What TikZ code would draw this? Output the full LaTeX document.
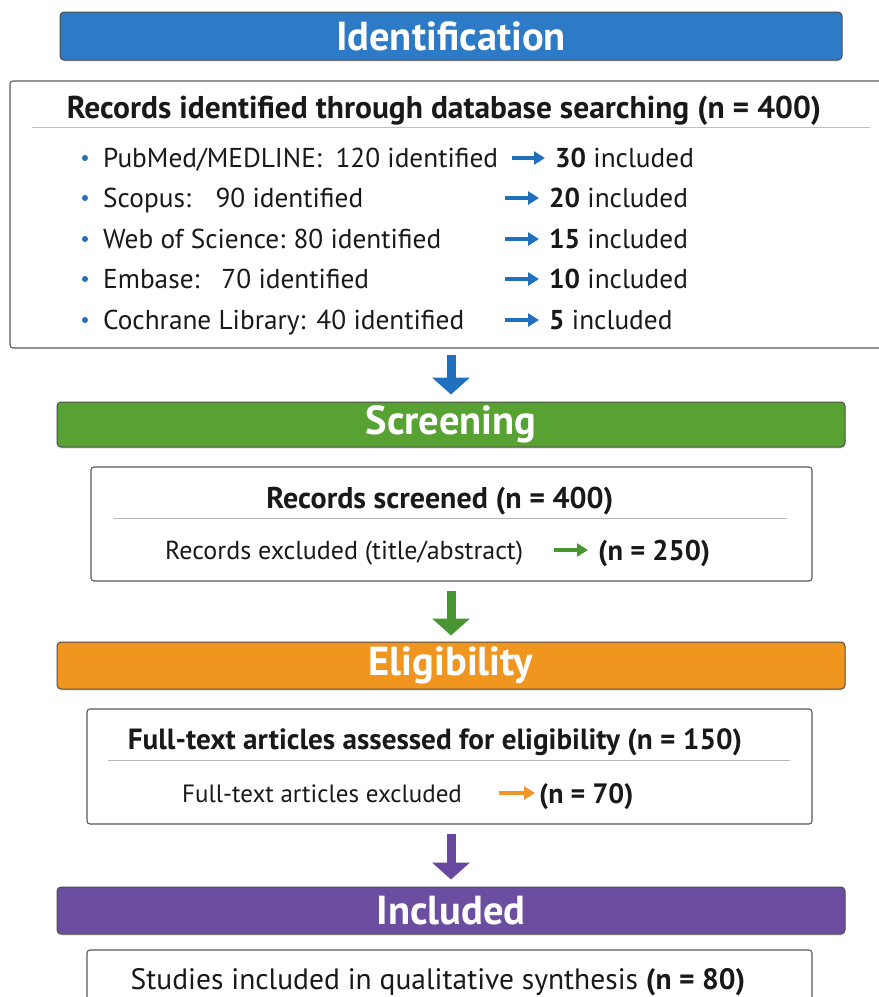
\documentclass[tikz,border=0pt]{standalone}
\usepackage{fontspec}
\setmainfont{PT Sans}
\usetikzlibrary{arrows.meta,calc,shadows}
\definecolor{idblue}{RGB}{45,122,198}
\definecolor{scgreen}{RGB}{88,162,52}
\definecolor{elorange}{RGB}{240,150,30}
\definecolor{inpurple}{RGB}{108,78,160}
\definecolor{arrblue}{RGB}{32,112,190}
\definecolor{arrgreen}{RGB}{72,150,50}
\definecolor{arrorange}{RGB}{240,150,40}
\definecolor{arrpurple}{RGB}{104,72,156}
\definecolor{sepblue}{RGB}{175,195,215}
\definecolor{sepgray}{RGB}{185,185,185}
\definecolor{txt}{RGB}{25,25,25}
\tikzset{
  bar/.style={draw=black!70, line width=1pt, rounded corners=4pt, text=white,
    font=\fontsize{40.5}{40.5}\selectfont\bfseries,
    drop shadow={shadow xshift=0pt, shadow yshift=-1.5pt, opacity=0.25}},
  panel/.style={draw=black!65, line width=1.1pt, rounded corners=3pt, fill=white},
  ttl/.style={inner sep=0pt, anchor=base, text=txt},
  row/.style={inner sep=0pt, anchor=base west, text=txt},
  bul/.style={circle, inner sep=0pt, minimum size=6pt, fill=arrblue},
  downarr/.style={line width=9pt, -{Triangle[width=37pt,length=17pt]}},
  sidearr/.style={line width=4pt, -{Triangle[width=13pt,length=11pt]}},
}
\newcommand{\fs}[1]{\fontsize{#1}{#1}\selectfont}
\begin{document}
\begin{tikzpicture}[x=1pt,y=-1pt]
\useasboundingbox (0,0) rectangle (879,997);
% header bars
\node[bar, fill=idblue, minimum width=782pt, minimum height=48pt] (h1) at (451,36) {Identification};
\node[bar, fill=scgreen, minimum width=788pt, minimum height=45pt] (h2) at (451,424.5) {Screening};
\node[bar, fill=elorange, minimum width=788pt, minimum height=47pt] (h3) at (451,665.5) {Eligibility};
\node[bar, fill=inpurple, minimum width=788pt, minimum height=47pt] (h4) at (451,910.5) {Included};
% panels
\node[panel, minimum width=872pt, minimum height=267pt] (p1) at (446,214.5) {};
\node[panel, minimum width=721pt, minimum height=114pt] (p2) at (451.5,524) {};
\node[panel, minimum width=725pt, minimum height=115pt] (p3) at (449.5,766.5) {};
\node[panel, minimum width=725pt, minimum height=80pt] (p4) at (449.5,990) {};
% panel 1
\node[ttl, font=\fs{31.5}\bfseries] (t1) at (444,118) {Records identified through database searching (n = 400)};
\draw[sepblue, line width=1pt] (32,127) coordinate (s1a) -- (870,127) coordinate (s1b);
\foreach \i/\y in {1/158,2/198,3/239,4/279,5/320}{
  \node[bul] (d\i) at (85,\y) {};
}
\tikzset{every node/.append style={font=\fs{27.3}}}
\node[row] (l1) at (103,167) {PubMed/MEDLINE:\hspace{0.5em}120 identified};
\node[row] (l2) at (103,207) {Scopus:\hspace{0.9em}90 identified};
\node[row] (l3) at (103,248) {Web of Science:\hspace{0.3em}80 identified};
\node[row] (l4) at (103,288) {Embase:\hspace{0.8em}70 identified};
\node[row] (l5) at (103,329) {Cochrane Library:\hspace{0.4em}40 identified};
\node[row] (r1) at (555,167) {\textbf{30} included};
\node[row] (r2) at (549,207) {\textbf{20} included};
\node[row] (r3) at (549,248) {\textbf{15} included};
\node[row] (r4) at (549,288) {\textbf{10} included};
\node[row] (r5) at (549,329) {\textbf{5} included};
\foreach \i/\x/\y in {1/512/158,2/505/198,3/505/239,4/505/279,5/505/320}{
  \coordinate (a\i) at (\x,\y);
}
\foreach \i in {1,...,5}{
  \draw[sidearr, arrblue, shorten >=10pt] (a\i) -- (a\i -| r\i.west);
}
% panel 2
\node[ttl, font=\fs{30}\bfseries] (t2) at (440,508) {Records screened (n = 400)};
\draw[sepgray, line width=1pt] (113,518) coordinate (s2a) -- (787,518) coordinate (s2b);
\node[row, font=\fs{26}] (e2) at (165,559) {Records excluded (title/abstract)};
\node[row, font=\fs{28.5}] (n2) at (598,560) {\textbf{(n = 250)}};
\coordinate (a6) at (554,550);
\draw[sidearr, arrgreen, shorten >=10pt] (a6) -- (a6 -| n2.west);
% panel 3
\node[ttl, font=\fs{29.2}\bfseries] (t3) at (435,749) {Full-text articles assessed for eligibility (n = 150)};
\draw[sepgray, line width=1pt] (108,760) coordinate (s3a) -- (790,760) coordinate (s3b);
\node[row, font=\fs{25}] (e3) at (182,802) {Full-text articles excluded};
\node[row, font=\fs{28}] (n3) at (539,803) {\textbf{(n = 70)}};
\coordinate (a7) at (499,793);
\draw[sidearr, arrorange, line width=3.5pt, shorten >=4pt] (a7) -- (a7 -| n3.west);
% panel 4
\node[ttl, font=\fs{29.5}] (t4) at (438,989) {Studies included in qualitative synthesis \textbf{(n = 80)}};
% down arrows
\draw[downarr, arrblue, shorten <=6pt, shorten >=7pt] (p1.south -| h2.north) -- (h2.north);
\draw[downarr, arrgreen, shorten <=9pt, shorten >=6pt] (p2.south -| h3.north) -- (h3.north);
\draw[downarr, arrpurple, shorten <=9pt, shorten >=7pt] (p3.south -| h4.north) -- (h4.north);
\end{tikzpicture}
\end{document}
